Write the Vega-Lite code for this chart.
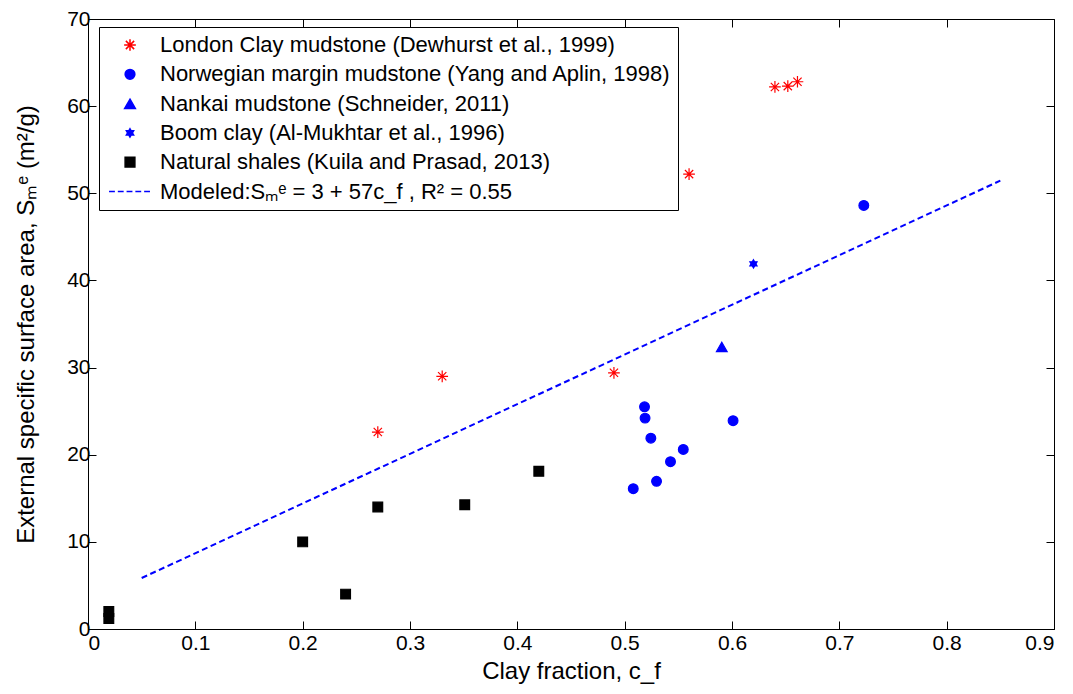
{
  "$schema": "https://vega.github.io/schema/vega-lite/v6.json",
  "width": 966,
  "height": 610,
  "autosize": {"type": "none"},
  "padding": {"left": 88, "top": 19, "right": 19, "bottom": 65},
  "background": "white",
  "config": {
    "font": "Liberation Sans",
    "view": {"stroke": "black", "strokeWidth": 1},
    "axis": {
      "domainColor": "black",
      "tickColor": "black",
      "labelColor": "black",
      "titleColor": "black",
      "labelFont": "Liberation Sans",
      "titleFont": "Liberation Sans",
      "labelFontSize": 21,
      "titleFontSize": 24,
      "titleFontWeight": "normal",
      "grid": false,
      "tickSize": -8,
      "labelPadding": 6
    },
    "legend": {
      "orient": "none",
      "legendX": 11,
      "legendY": 8,
      "strokeColor": "black",
      "fillColor": "white",
      "padding": 7,
      "labelFont": "Liberation Sans",
      "labelFontSize": 22,
      "labelColor": "black",
      "labelLimit": 0,
      "symbolSize": 95,
      "symbolStrokeWidth": 1.5,
      "symbolOffset": 13,
      "labelOffset": 19,
      "rowPadding": 7.3,
      "title": null
    }
  },
  "layer": [
    {
      "data": {"values": [{"cf": 0.05, "S": 5.85}, {"cf": 0.85, "S": 51.45}]},
      "mark": {"type": "line", "color": "#0000ff", "strokeWidth": 2, "strokeDash": [6, 3.5]},
      "encoding": {
        "x": {
          "field": "cf", "type": "quantitative",
          "scale": {"domain": [0, 0.9], "nice": false, "zero": false},
          "axis": {"orient": "bottom", "values": [0, 0.1, 0.2, 0.3, 0.4, 0.5, 0.6, 0.7, 0.8, 0.9], "format": ".1~f", "title": "Clay fraction, c_f", "titlePadding": 6, "labelPadding": 11}
        },
        "y": {
          "field": "S", "type": "quantitative",
          "scale": {"domain": [0, 70], "nice": false},
          "axis": {"orient": "left", "values": [0, 10, 20, 30, 40, 50, 60, 70], "format": "d", "title": "External specific surface area, Sₘᵉ (m²/g)", "titlePadding": 28}
        }
      }
    },
    {
      "data": {"values": [
        {"series": "London Clay mudstone (Dewhurst et al., 1999)", "cf": 0.27, "S": 22.6},
        {"series": "London Clay mudstone (Dewhurst et al., 1999)", "cf": 0.33, "S": 29.0},
        {"series": "London Clay mudstone (Dewhurst et al., 1999)", "cf": 0.49, "S": 29.4},
        {"series": "London Clay mudstone (Dewhurst et al., 1999)", "cf": 0.56, "S": 52.2},
        {"series": "London Clay mudstone (Dewhurst et al., 1999)", "cf": 0.64, "S": 62.2},
        {"series": "London Clay mudstone (Dewhurst et al., 1999)", "cf": 0.652, "S": 62.3},
        {"series": "London Clay mudstone (Dewhurst et al., 1999)", "cf": 0.661, "S": 62.8},
        {"series": "Norwegian margin mudstone (Yang and Aplin, 1998)", "cf": 0.508, "S": 16.1},
        {"series": "Norwegian margin mudstone (Yang and Aplin, 1998)", "cf": 0.5185, "S": 25.5},
        {"series": "Norwegian margin mudstone (Yang and Aplin, 1998)", "cf": 0.519, "S": 24.2},
        {"series": "Norwegian margin mudstone (Yang and Aplin, 1998)", "cf": 0.5244, "S": 21.9},
        {"series": "Norwegian margin mudstone (Yang and Aplin, 1998)", "cf": 0.5297, "S": 16.95},
        {"series": "Norwegian margin mudstone (Yang and Aplin, 1998)", "cf": 0.5427, "S": 19.2},
        {"series": "Norwegian margin mudstone (Yang and Aplin, 1998)", "cf": 0.5546, "S": 20.6},
        {"series": "Norwegian margin mudstone (Yang and Aplin, 1998)", "cf": 0.601, "S": 23.9},
        {"series": "Norwegian margin mudstone (Yang and Aplin, 1998)", "cf": 0.7228, "S": 48.6},
        {"series": "Nankai mudstone (Schneider, 2011)", "cf": 0.5905, "S": 32.4},
        {"series": "Boom clay (Al-Mukhtar et al., 1996)", "cf": 0.62, "S": 41.9},
        {"series": "Natural shales (Kuila and Prasad, 2013)", "cf": 0.0194, "S": 1.2},
        {"series": "Natural shales (Kuila and Prasad, 2013)", "cf": 0.0194, "S": 2.0},
        {"series": "Natural shales (Kuila and Prasad, 2013)", "cf": 0.2, "S": 10.0},
        {"series": "Natural shales (Kuila and Prasad, 2013)", "cf": 0.24, "S": 4.0},
        {"series": "Natural shales (Kuila and Prasad, 2013)", "cf": 0.27, "S": 14.0},
        {"series": "Natural shales (Kuila and Prasad, 2013)", "cf": 0.351, "S": 14.25},
        {"series": "Natural shales (Kuila and Prasad, 2013)", "cf": 0.42, "S": 18.1}
      ]},
      "mark": {"type": "point", "filled": true, "size": 95, "strokeWidth": 1.2, "opacity": 1},
      "encoding": {
        "x": {
          "field": "cf", "type": "quantitative",
          "axis": {"orient": "top", "values": [0, 0.1, 0.2, 0.3, 0.4, 0.5, 0.6, 0.7, 0.8, 0.9], "labels": false, "title": null, "domain": false}
        },
        "y": {
          "field": "S", "type": "quantitative",
          "axis": {"orient": "right", "values": [0, 10, 20, 30, 40, 50, 60, 70], "labels": false, "title": null, "domain": false}
        },
        "shape": {
          "field": "series", "type": "nominal",
          "scale": {
            "domain": [
              "London Clay mudstone (Dewhurst et al., 1999)",
              "Norwegian margin mudstone (Yang and Aplin, 1998)",
              "Nankai mudstone (Schneider, 2011)",
              "Boom clay (Al-Mukhtar et al., 1996)",
              "Natural shales (Kuila and Prasad, 2013)",
              "Modeled:Sₘᵉ = 3 + 57c_f , R² = 0.55"
            ],
            "range": [
              "M-1.2,0H1.2M0,-1.2V1.2M-0.85,-0.85L0.85,0.85M-0.85,0.85L0.85,-0.85",
              "circle",
              "M0,-0.9L1.1,1L-1.1,1Z",
              "M0,-0.85L0.74,0.43L-0.74,0.43ZM0,0.85L-0.74,-0.43L0.74,-0.43Z",
              "M-1,-1H1V1H-1Z",
              "M-4.3,0H-3.1M-2.5,0H-1.3M-0.7,0H0.5M1.1,0H2.3M2.9,0H4.1"
            ]
          }
        },
        "fill": {
          "field": "series", "type": "nominal",
          "scale": {
            "domain": [
              "London Clay mudstone (Dewhurst et al., 1999)",
              "Norwegian margin mudstone (Yang and Aplin, 1998)",
              "Nankai mudstone (Schneider, 2011)",
              "Boom clay (Al-Mukhtar et al., 1996)",
              "Natural shales (Kuila and Prasad, 2013)",
              "Modeled:Sₘᵉ = 3 + 57c_f , R² = 0.55"
            ],
            "range": ["transparent", "#0000ff", "#0000ff", "#0000ff", "#000000", "transparent"]
          }
        },
        "stroke": {
          "field": "series", "type": "nominal",
          "scale": {
            "domain": [
              "London Clay mudstone (Dewhurst et al., 1999)",
              "Norwegian margin mudstone (Yang and Aplin, 1998)",
              "Nankai mudstone (Schneider, 2011)",
              "Boom clay (Al-Mukhtar et al., 1996)",
              "Natural shales (Kuila and Prasad, 2013)",
              "Modeled:Sₘᵉ = 3 + 57c_f , R² = 0.55"
            ],
            "range": ["#ff0000", "#0000ff", "#0000ff", "#0000ff", "#000000", "#0000ff"]
          }
        }
      }
    }
  ],
  "resolve": {"axis": {"x": "independent", "y": "independent"}}
}
